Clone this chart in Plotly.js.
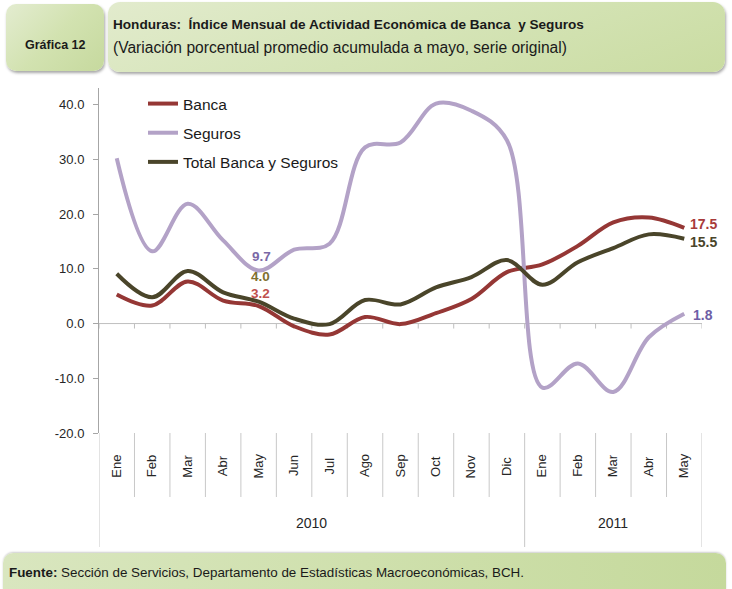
<!DOCTYPE html>
<html>
<head>
<meta charset="utf-8">
<script src="https://cdn.plot.ly/plotly-3.0.1.min.js"></script>
<style>
  html, body { margin:0; padding:0; background:#ffffff; }
  #wrap { position:relative; width:732px; height:589px; overflow:hidden; }
  .box { position:absolute; }
  #b1 { left:6px; top:4px; width:98px; height:67px; border-radius:10px;
        background:linear-gradient(135deg,#e3ecd0 0%,#d2e2b0 50%,#c6d99e 100%);
        box-shadow:1px 2px 3px rgba(0,0,0,0.35); }
  #b2 { left:108px; top:2px; width:617px; height:70px; border-radius:12px;
        background:linear-gradient(160deg,#e2ebcd 0%,#d5e4b7 50%,#cadca2 100%);
        box-shadow:1px 2px 3px rgba(0,0,0,0.35); }
  #b3 { left:3px; top:553px; width:723px; height:45px; border-radius:10px;
        background:linear-gradient(90deg,#d9e6bf 0%,#cfe0ad 50%,#c5d99c 100%);
        box-shadow:0px -1px 2px rgba(0,0,0,0.2); }
  #chart { position:absolute; left:0; top:0; width:732px; height:589px; }
</style>
</head>
<body>
<div id="wrap">
  <div class="box" id="b1"></div>
  <div class="box" id="b2"></div>
  <div class="box" id="b3"></div>
  <div id="chart"></div>
</div>
<script>
// ---- Data ----
const meses = ['Ene','Feb','Mar','Abr','May','Jun','Jul','Ago','Sep','Oct','Nov','Dic','Ene','Feb','Mar','Abr','May'];
const anios = ['2010','2010','2010','2010','2010','2010','2010','2010','2010','2010','2010','2010','2011','2011','2011','2011','2011'];
const banca   = [5.3, 3.3, 7.7, 4.2, 3.2, -0.5, -2.0, 1.2, -0.1, 1.9, 4.5, 9.4, 10.8, 14.2, 18.5, 19.4, 17.5];
const seguros = [30.2, 13.2, 21.9, 15.2, 9.7, 13.5, 14.6, 32.2, 33.1, 40.2, 38.9, 33.5, -11.7, -7.3, -12.5, -2.5, 1.8];
const total   = [9.1, 4.8, 9.6, 5.7, 4.0, 0.9, -0.1, 4.3, 3.5, 6.6, 8.5, 11.6, 7.1, 11.2, 13.8, 16.3, 15.5];
const yTicks  = [-20, -10, 0, 10, 20, 30, 40];

// ---- Layout helpers (pixel -> paper) ----
const L = 99, R = 702, T = 88, B = 433;
const fx = px => (px - L) / (R - L);
const fy = py => (B - py) / (B - T);
const FONT = 'Liberation Sans, Arial, sans-serif';

const idx = meses.map((m, i) => i);

const cRed = '#953735', cLav = '#b3a2c7', cOli = '#4a452a';

const traces = [
  {x: idx, y: banca, name: 'Banca', legendgroup: 'a', type: 'scatter', mode: 'lines',
   line: {color: cRed, width: 4, shape: 'spline', smoothing: 1}, hoverinfo: 'skip'},
  {x: idx, y: seguros, name: 'Seguros', legendgroup: 'b', type: 'scatter', mode: 'lines',
   line: {color: cLav, width: 4, shape: 'spline', smoothing: 1}, hoverinfo: 'skip'},
  {x: idx, y: total, name: 'Total Banca y Seguros', legendgroup: 'c', type: 'scatter', mode: 'lines',
   line: {color: cOli, width: 4, shape: 'spline', smoothing: 1}, hoverinfo: 'skip'}
];

const shapes = [];
// x-axis line at zero with tick marks at category boundaries
shapes.push({type: 'line', xref: 'x', yref: 'y', x0: -0.5, x1: meses.length - 0.5, y0: 0, y1: 0,
             line: {color: '#bfbfbf', width: 1}, layer: 'below'});
for (let k = 0; k <= meses.length; k++) {
  shapes.push({type: 'line', xref: 'x', yref: 'y', ysizemode: 'pixel', yanchor: 0,
               x0: k - 0.5, x1: k - 0.5, y0: 0, y1: -5,
               line: {color: '#bfbfbf', width: 1}, layer: 'below'});
  const yearEdge = (k === 0 || k === meses.length || anios[k] !== anios[k - 1]);
  shapes.push({type: 'line', xref: 'x', yref: 'paper',
               x0: k - 0.5, x1: k - 0.5, y0: 0, y1: yearEdge ? fy(547) : fy(497),
               line: {color: '#c8c8c8', width: 1}});
}

const ann = [];
// month labels
meses.forEach((m, i) => {
  ann.push({xref: 'x', yref: 'paper', x: i, y: fy(466), text: m, textangle: -90,
            showarrow: false, xanchor: 'center', yanchor: 'middle',
            font: {family: FONT, size: 13, color: '#262626'}});
});
// year labels
const years = [...new Set(anios)];
years.forEach(yv => {
  const ids = idx.filter(i => anios[i] === yv);
  const mid = (ids[0] + ids[ids.length - 1]) / 2;
  ann.push({xref: 'x', yref: 'paper', x: mid, y: fy(523), text: yv, showarrow: false,
            xanchor: 'center', yanchor: 'middle', font: {family: FONT, size: 14, color: '#262626'}});
});
// data labels
const last = meses.length - 1;
const may = 4;
const lab = (v) => v.toFixed(1);
const LF = 13.5;
ann.push({xref: 'x', yref: 'y', x: may, y: seguros[may], text: '<b>' + lab(seguros[may]) + '</b>', showarrow: false,
          xshift: 3, yshift: 14, font: {family: FONT, size: LF, color: '#7a68a6'}});
ann.push({xref: 'x', yref: 'y', x: may, y: total[may], text: '<b>' + lab(total[may]) + '</b>', showarrow: false,
          xshift: 2, yshift: 25, font: {family: FONT, size: LF, color: '#7f7030'}});
ann.push({xref: 'x', yref: 'y', x: may, y: banca[may], text: '<b>' + lab(banca[may]) + '</b>', showarrow: false,
          xshift: 2, yshift: 13, font: {family: FONT, size: LF, color: '#c0504d'}});
ann.push({xref: 'x', yref: 'y', x: last, y: banca[last], text: '<b>' + lab(banca[last]) + '</b>', showarrow: false,
          xanchor: 'left', xshift: 4, yshift: 4, font: {family: FONT, size: 14, color: '#a83a3a'}});
ann.push({xref: 'x', yref: 'y', x: last, y: total[last], text: '<b>' + lab(total[last]) + '</b>', showarrow: false,
          xanchor: 'left', xshift: 4, yshift: -3, font: {family: FONT, size: 14, color: cOli}});
ann.push({xref: 'x', yref: 'y', x: last, y: seguros[last], text: '<b>' + lab(seguros[last]) + '</b>', showarrow: false,
          xanchor: 'left', xshift: 7, yshift: -1, font: {family: FONT, size: 14, color: '#6e5ea6'}});
// header & footer
ann.push({xref: 'paper', yref: 'paper', x: fx(55), y: fy(45), text: '<b>Gráfica 12</b>', showarrow: false,
          xanchor: 'center', yanchor: 'middle', font: {family: FONT, size: 12.5, color: '#1a1a1a'}});
ann.push({xref: 'paper', yref: 'paper', x: fx(111), y: fy(24), text: '<b>Honduras:  Índice Mensual de Actividad Económica de Banca  y Seguros</b>',
          showarrow: false, xanchor: 'left', yanchor: 'middle', font: {family: FONT, size: 13.6, color: '#1a1a1a'}});
ann.push({xref: 'paper', yref: 'paper', x: fx(111), y: fy(47), text: '(Variación porcentual promedio acumulada a mayo, serie original)',
          showarrow: false, xanchor: 'left', yanchor: 'middle', font: {family: FONT, size: 15.6, color: '#1a1a1a'}});
ann.push({xref: 'paper', yref: 'paper', x: fx(7), y: fy(572), text: '<b>Fuente:</b> Sección de Servicios, Departamento de Estadísticas Macroeconómicas, BCH.',
          showarrow: false, xanchor: 'left', yanchor: 'middle', font: {family: FONT, size: 13.4, color: '#1a1a1a'}});

const layout = {
  width: 732, height: 589,
  margin: {l: L, r: 732 - R, t: T, b: 589 - B, pad: 0},
  paper_bgcolor: 'rgba(0,0,0,0)', plot_bgcolor: 'rgba(0,0,0,0)',
  showlegend: true,
  legend: {x: fx(143), y: fy(87), xanchor: 'left', yanchor: 'top', bgcolor: 'rgba(0,0,0,0)',
           font: {family: FONT, size: 15.5, color: '#1a1a1a'}, traceorder: 'grouped', tracegroupgap: 6,
           itemwidth: 30},
  xaxis: {range: [-0.5, meses.length - 0.5], showticklabels: false, showgrid: false, zeroline: false,
          showline: false, ticks: '', fixedrange: true},
  yaxis: {range: [-20, 43.05], tickvals: yTicks, ticktext: yTicks.map(v => v.toFixed(1)),
          showgrid: false, zeroline: false, showline: true, linecolor: '#a6a6a6', linewidth: 1,
          ticks: 'outside', ticklen: 5, tickcolor: '#a6a6a6', ticklabelstandoff: 6,
          tickfont: {family: FONT, size: 13, color: '#262626'}, fixedrange: true},
  shapes: shapes,
  annotations: ann
};

Plotly.newPlot('chart', traces, layout, {displayModeBar: false, staticPlot: true});
</script>
</body>
</html>
